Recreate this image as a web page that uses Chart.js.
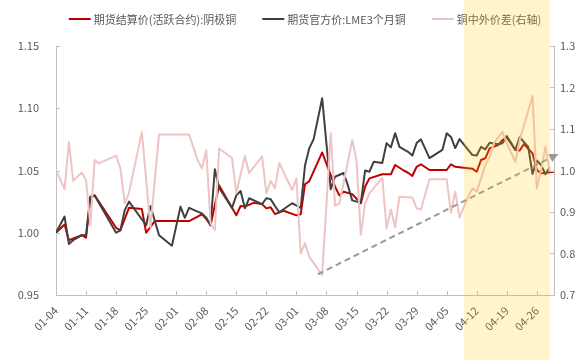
<!DOCTYPE html>
<html lang="zh-CN">
<head>
<meta charset="UTF-8">
<title>铜价走势</title>
<script src="https://cdn.jsdelivr.net/npm/chart.js"></script>
<style>
  html, body { margin: 0; padding: 0; background: #fff; overflow: hidden; }
  .wrap { position: relative; width: 579px; height: 360px; }
</style>
</head>
<body>
<div class="wrap"><canvas id="copperChart"></canvas></div>
<script>
  // tick labels on the date axis (one every 7 days from 01-04)
  const tickLabels = ['01-04', '01-11', '01-18', '01-25', '02-01', '02-08', '02-15', '02-22',
    '03-01', '03-08', '03-15', '03-22', '03-29', '04-05', '04-12', '04-19', '04-26'];

  // 期货结算价(活跃合约):阴极铜 (left axis)
  const shfeDates = ['01-04', '01-06', '01-07', '01-10', '01-11', '01-12', '01-13', '01-18', '01-19', '01-21',
    '01-24', '01-25', '01-27', '02-04', '02-06', '02-07', '02-08', '02-09', '02-11', '02-15',
    '02-16', '02-17', '02-19', '02-21', '02-22', '02-23', '02-24', '02-26', '03-01', '03-02',
    '03-03', '03-04', '03-07', '03-10', '03-11', '03-12', '03-14', '03-16', '03-17', '03-18',
    '03-21', '03-23', '03-24', '03-26', '03-27', '03-28', '03-29', '03-30', '04-01', '04-05',
    '04-06', '04-07', '04-11', '04-12', '04-13', '04-14', '04-15', '04-17', '04-18', '04-19',
    '04-21', '04-22', '04-23', '04-25', '04-26', '04-27', '04-28', '04-29', '04-30'];
  const shfeValues = [1.000, 1.0066, 0.994, 0.998, 0.996, 1.028, 1.030, 1.004, 1.002, 1.020,
    1.019, 1.000, 1.0094, 1.0094, 1.013, 1.015, 1.011, 1.006, 1.038, 1.014,
    1.0215, 1.021, 1.024, 1.023, 1.0196, 1.0205, 1.015, 1.0177, 1.014, 1.0148,
    1.039, 1.0415, 1.0645, 1.037, 1.030, 1.033, 1.031, 1.0237, 1.037, 1.0437,
    1.047, 1.047, 1.0544, 1.050, 1.0482, 1.0456, 1.053, 1.055, 1.0504, 1.0504,
    1.055, 1.053, 1.0515, 1.049, 1.0584, 1.0598, 1.0678, 1.0705, 1.0745, 1.0767,
    1.0665, 1.066, 1.0713, 1.0638, 1.0504, 1.0477, 1.048, 1.0485, 1.049];

  // 期货官方价:LME3个月铜 (left axis)
  const lmeDates = ['01-04', '01-06', '01-07', '01-08', '01-10', '01-11', '01-12', '01-13', '01-18', '01-19',
    '01-20', '01-21', '01-25', '01-26', '01-28', '01-31', '02-02', '02-03', '02-04', '02-06',
    '02-07', '02-08', '02-09', '02-10', '02-11', '02-14', '02-15', '02-16', '02-17', '02-18',
    '02-21', '02-22', '02-23', '02-24', '02-25', '02-28', '03-02', '03-03', '03-04', '03-05',
    '03-07', '03-09', '03-10', '03-12', '03-13', '03-14', '03-16', '03-17', '03-18', '03-19',
    '03-21', '03-22', '03-23', '03-24', '03-25', '03-27', '03-28', '03-29', '03-30', '04-01',
    '04-04', '04-05', '04-06', '04-07', '04-08', '04-11', '04-12', '04-13', '04-14', '04-15',
    '04-17', '04-18', '04-19', '04-20', '04-21', '04-22', '04-24', '04-25', '04-26', '04-27',
    '04-28', '04-29'];
  const lmeValues = [1.000, 1.013, 0.991, 0.994, 0.998, 0.998, 1.029, 1.030, 1.000, 1.002,
    1.018, 1.025, 1.006, 1.0215, 0.998, 0.9896, 1.021, 1.012, 1.020, 1.017,
    1.0156, 1.012, 1.006, 1.051, 1.036, 1.020, 1.030, 1.0335, 1.0196, 1.0277,
    1.023, 1.0277, 1.027, 1.0215, 1.0165, 1.0237, 1.020, 1.054, 1.068, 1.075,
    1.108, 1.035, 1.045, 1.048, 1.038, 1.026, 1.024, 1.050, 1.049, 1.057,
    1.056, 1.072, 1.0686, 1.080, 1.069, 1.065, 1.062, 1.072, 1.075, 1.060,
    1.0665, 1.080, 1.077, 1.068, 1.0753, 1.0624, 1.062, 1.069, 1.067, 1.0723,
    1.071, 1.0719, 1.0777, 1.0723, 1.0665, 1.0767, 1.069, 1.0472, 1.058, 1.0544,
    1.047, 1.0526];

  // 铜中外价差 (right axis)
  const spreadDates = ['01-04', '01-06', '01-07', '01-08', '01-10', '01-11', '01-12', '01-13', '01-14', '01-18',
    '01-19', '01-20', '01-21', '01-24', '01-26', '01-28', '02-04', '02-06', '02-07', '02-08',
    '02-09', '02-10', '02-11', '02-14', '02-15', '02-17', '02-18', '02-21', '02-22', '02-23',
    '02-24', '02-25', '02-28', '03-01', '03-02', '03-03', '03-04', '03-07', '03-09', '03-10',
    '03-11', '03-14', '03-15', '03-16', '03-17', '03-18', '03-21', '03-22', '03-23', '03-24',
    '03-25', '03-28', '03-29', '03-30', '04-01', '04-05', '04-06', '04-07', '04-08', '04-10',
    '04-11', '04-12', '04-14', '04-15', '04-16', '04-18', '04-19', '04-21', '04-22', '04-25',
    '04-26', '04-27', '04-28', '04-29'];
  const spreadValues = [1.001, 0.955, 1.069, 0.975, 0.995, 0.977, 0.868, 1.025, 1.017, 1.036,
    1.005, 0.921, 0.946, 1.093, 0.863, 1.087, 1.087, 1.025, 1.005, 1.049,
    0.873, 0.857, 1.053, 1.030, 0.945, 1.035, 0.994, 1.034, 0.945, 0.975,
    0.957, 1.018, 0.953, 0.981, 0.800, 0.825, 0.792, 0.748, 1.090, 0.915,
    0.920, 1.073, 1.025, 0.845, 0.921, 0.945, 0.982, 0.861, 0.906, 0.863,
    0.937, 0.935, 0.909, 0.906, 0.979, 0.979, 0.898, 0.949, 0.887, 0.937,
    0.957, 0.949, 1.013, 1.033, 1.066, 1.093, 1.066, 1.021, 1.073, 1.180,
    0.957, 1.001, 1.057, 0.999];

  // highlighted period and trend arrow (date, right-axis value)
  const bandFrom = '04-09';
  const bandTo = '04-29';
  const arrowFrom = ['03-06', 0.75];
  const arrowTo = ['05-01', 1.04];

  const labelColor = '#595959';
  const axisColor = '#BFBFBF';
  const fontFamily = '"Noto Sans CJK SC", "Noto Sans", sans-serif';

  // days since 2025-01-04, used as the x value
  const dayOf = s => {
    const [m, d] = s.split('-').map(Number);
    return Math.round((Date.UTC(2025, m - 1, d) - Date.UTC(2025, 0, 4)) / 864e5);
  };
  const toPoints = (dates, values) => dates.map((d, i) => ({ x: dayOf(d), y: values[i] }));

  const extras = {
    id: 'extras',
    afterDatasetsDraw(chart) {
      const { ctx, chartArea: area, scales } = chart;
      const { x, y, y1 } = scales;
      ctx.save();

      // short tick marks pointing into the plot
      ctx.strokeStyle = axisColor;
      ctx.lineWidth = 1;
      ctx.beginPath();
      y.ticks.forEach(t => {
        const py = Math.round(y.getPixelForValue(t.value)) + 0.5;
        ctx.moveTo(area.left, py); ctx.lineTo(area.left + 4, py);
      });
      y1.ticks.forEach(t => {
        const py = Math.round(y1.getPixelForValue(t.value)) + 0.5;
        ctx.moveTo(area.right, py); ctx.lineTo(area.right - 4, py);
      });
      x.ticks.forEach(t => {
        const px = Math.round(x.getPixelForValue(t.value)) + 0.5;
        ctx.moveTo(px, area.bottom); ctx.lineTo(px, area.bottom - 4);
      });
      ctx.stroke();

      // dashed trend arrow
      const x0 = x.getPixelForValue(dayOf(arrowFrom[0]));
      const y0 = y1.getPixelForValue(arrowFrom[1]);
      const xe = x.getPixelForValue(dayOf(arrowTo[0]));
      const ye = y1.getPixelForValue(arrowTo[1]);
      const ang = Math.atan2(ye - y0, xe - x0);
      const head = 9;
      ctx.strokeStyle = '#999999';
      ctx.fillStyle = '#999999';
      ctx.lineWidth = 2;
      ctx.setLineDash([6, 4]);
      ctx.beginPath();
      ctx.moveTo(x0, y0);
      ctx.lineTo(xe - head * Math.cos(ang), ye - head * Math.sin(ang));
      ctx.stroke();
      ctx.setLineDash([]);
      ctx.beginPath();
      ctx.moveTo(xe, ye);
      ctx.lineTo(xe - head * Math.cos(ang) + 4.5 * Math.sin(ang), ye - head * Math.sin(ang) - 4.5 * Math.cos(ang));
      ctx.lineTo(xe - head * Math.cos(ang) - 4.5 * Math.sin(ang), ye - head * Math.sin(ang) + 4.5 * Math.cos(ang));
      ctx.closePath();
      ctx.fill();

      // legend row, centred over the plot
      ctx.font = '11px ' + fontFamily;
      ctx.textBaseline = 'middle';
      const lineLen = 22, textGap = 3, itemGap = 26, ly = 19;
      const items = chart.data.datasets.map(ds => ({
        label: ds.label, color: ds.borderColor, w: ctx.measureText(ds.label).width
      }));
      const total = items.reduce((s, it) => s + lineLen + textGap + it.w, 0) + itemGap * (items.length - 1);
      let lx = (area.left + area.right) / 2 - total / 2;
      items.forEach(it => {
        ctx.strokeStyle = it.color;
        ctx.lineWidth = 2;
        ctx.beginPath();
        ctx.moveTo(lx, ly); ctx.lineTo(lx + lineLen, ly);
        ctx.stroke();
        ctx.fillStyle = labelColor;
        ctx.fillText(it.label, lx + lineLen + textGap, ly + 1);
        lx += lineLen + textGap + it.w + itemGap;
      });
      ctx.restore();
    },
    afterDraw(chart) {
      // translucent highlight over the last weeks
      const { ctx, scales: { x }, height } = chart;
      const xa = x.getPixelForValue(dayOf(bandFrom));
      const xb = x.getPixelForValue(dayOf(bandTo));
      ctx.save();
      ctx.fillStyle = 'rgba(255, 200, 0, 0.2)';
      ctx.fillRect(xa, 0, xb - xa, height);
      ctx.restore();
    }
  };

  const ctx = document.getElementById('copperChart').getContext('2d');
  const copperChart = new Chart(ctx, {
    type: 'line',
    data: {
      datasets: [{
        label: '期货结算价(活跃合约):阴极铜',
        data: toPoints(shfeDates, shfeValues),
        borderColor: '#C00000',
        borderWidth: 2,
        yAxisID: 'y',
        order: 2
      }, {
        label: '期货官方价:LME3个月铜',
        data: toPoints(lmeDates, lmeValues),
        borderColor: '#404040',
        borderWidth: 2,
        yAxisID: 'y',
        order: 1
      }, {
        label: '铜中外价差(右轴)',
        data: toPoints(spreadDates, spreadValues),
        borderColor: '#EFC4C4',
        borderWidth: 2,
        yAxisID: 'y1',
        order: 0
      }]
    },
    options: {
      responsive: true,
      maintainAspectRatio: false,
      animation: false,
      devicePixelRatio: 1,
      layout: { padding: { top: 46, left: 0, right: 0, bottom: 0 } },
      elements: {
        point: { radius: 0 },
        line: { tension: 0, borderJoinStyle: 'round' }
      },
      plugins: {
        legend: { display: false },
        tooltip: { enabled: false }
      },
      scales: {
        x: {
          type: 'linear',
          min: 0,
          max: 116,
          grid: { display: false, drawTicks: false },
          border: { color: axisColor, width: 1 },
          ticks: {
            stepSize: 7,
            includeBounds: false,
            autoSkip: false,
            maxRotation: 45,
            minRotation: 45,
            padding: 9,
            color: labelColor,
            font: { family: fontFamily, size: 11 },
            callback: v => tickLabels[v / 7]
          },
          afterFit: s => { s.height = 65; }
        },
        y: {
          position: 'left',
          min: 0.95,
          max: 1.15,
          grid: { display: false, drawTicks: false },
          border: { color: axisColor, width: 1 },
          ticks: {
            stepSize: 0.05,
            padding: 17,
            color: labelColor,
            font: { family: fontFamily, size: 11 },
            callback: v => v.toFixed(2)
          },
          afterFit: s => { s.width = 56; }
        },
        y1: {
          position: 'right',
          min: 0.7,
          max: 1.3,
          grid: { display: false, drawTicks: false },
          border: { color: axisColor, width: 1 },
          ticks: {
            stepSize: 0.1,
            padding: 6,
            color: labelColor,
            font: { family: fontFamily, size: 11 },
            callback: v => v.toFixed(1)
          },
          afterFit: s => { s.width = 25; }
        }
      }
    },
    plugins: [extras]
  });
</script>
</body>
</html>
